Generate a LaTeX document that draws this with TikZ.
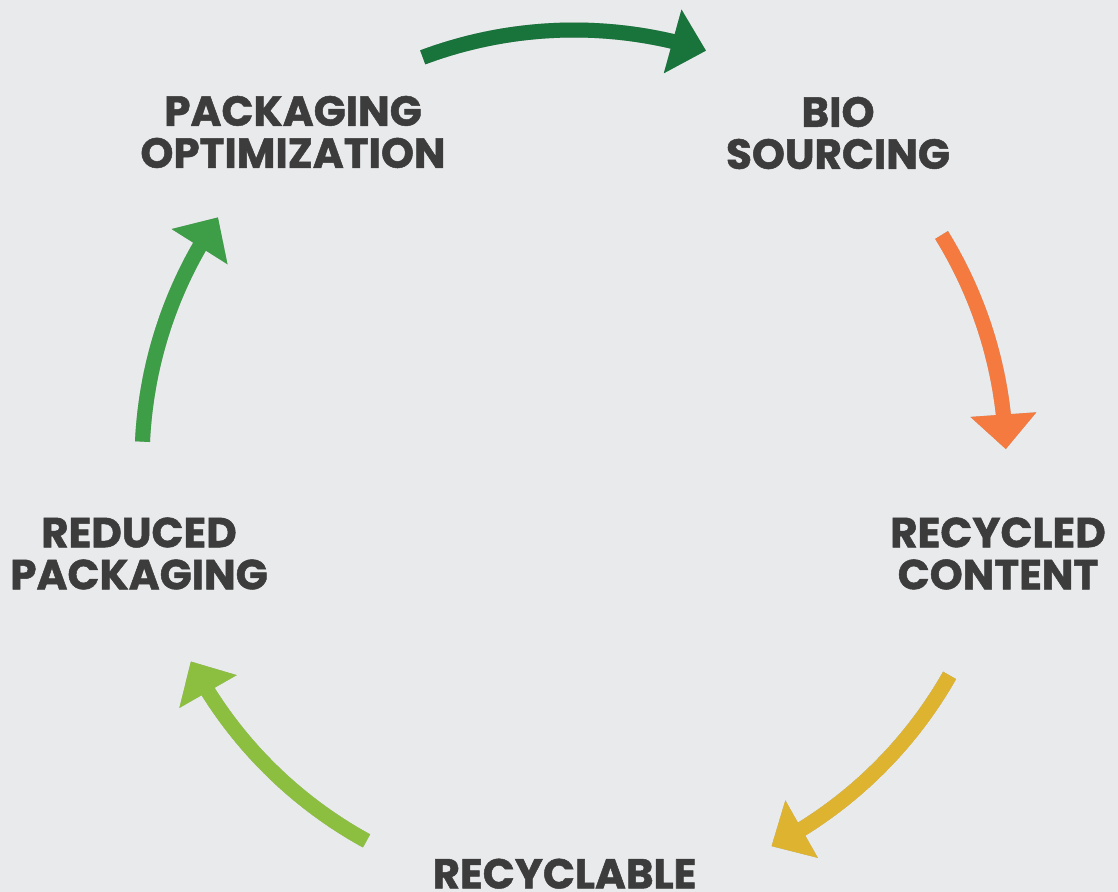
\documentclass[tikz,border=0pt]{standalone}
\usepackage{fontspec}
\newfontfamily\labfont{Poppins}[BoldFeatures={FakeBold=1.2}]
\usetikzlibrary{arrows.meta,bending}
\definecolor{bg}{HTML}{E8EAEC}
\definecolor{txt}{HTML}{3C3C3C}
\definecolor{cdark}{HTML}{18743B}
\definecolor{corange}{HTML}{F47A3F}
\definecolor{cyellow}{HTML}{DDB32F}
\definecolor{clight}{HTML}{8CBF3F}
\definecolor{cmid}{HTML}{3E9E47}
\newcommand\drawcycle[1]{%
  \draw[cyc,cdark,#1]   (C) ++(110.5:432) arc[start angle=110.5, end angle=72.2,  radius=432];
  \draw[cyc,corange,#1] (C) ++(31.7:432)  arc[start angle=31.7,  end angle=1.7,   radius=432];
  \draw[cyc,cyellow,#1] (C) ++(-29.6:432) arc[start angle=-29.6, end angle=-62.8, radius=432];
  \draw[cyc,clight,#1]  (C) ++(-118.7:432) arc[start angle=-118.7, end angle=-152.5, radius=432];
  \draw[cyc,cmid,#1]    (C) ++(177.3:432) arc[start angle=177.3, end angle=145.5, radius=432];
}
\begin{document}
\begin{tikzpicture}[x=0.75pt,y=0.75pt,
  lab/.style={align=center, text=txt, inner sep=0pt,
    font=\labfont\bfseries\fontsize{31.5}{31.5}\selectfont},
  cyc/.style={line width=11.25pt, -{Triangle[length=26pt,width=48pt]}},
  shade/.style={color=black, opacity=0.022}]
\fill[bg] (0,0) rectangle (1118,892);
\useasboundingbox (0,0) rectangle (1118,892);
\clip (0,0) rectangle (1118,892);
\coordinate (C) at (574,430);
% soft shadows of the arrows
\foreach \dx in {1,5,9}{
  \foreach \dy in {-5,-10,-15}{
    \begin{scope}[shift={(\dx,\dy)}]
      \drawcycle{shade}
    \end{scope}
  }
}
% arrows
\drawcycle{}
% labels
\node[lab] (opt) at (293,760) {PACKAGING\\OPTIMIZATION};
\node[lab] (bio) at (838,759) {BIO\\SOURCING};
\node[lab] (rcc) at (998,338.5) {RECYCLED\\CONTENT};
\node[lab] (red) at (139,338.5) {REDUCED\\PACKAGING};
\node[lab,anchor=base] (rcl) at (564.5,3.5) {RECYCLABLE};
\end{tikzpicture}
\end{document}
